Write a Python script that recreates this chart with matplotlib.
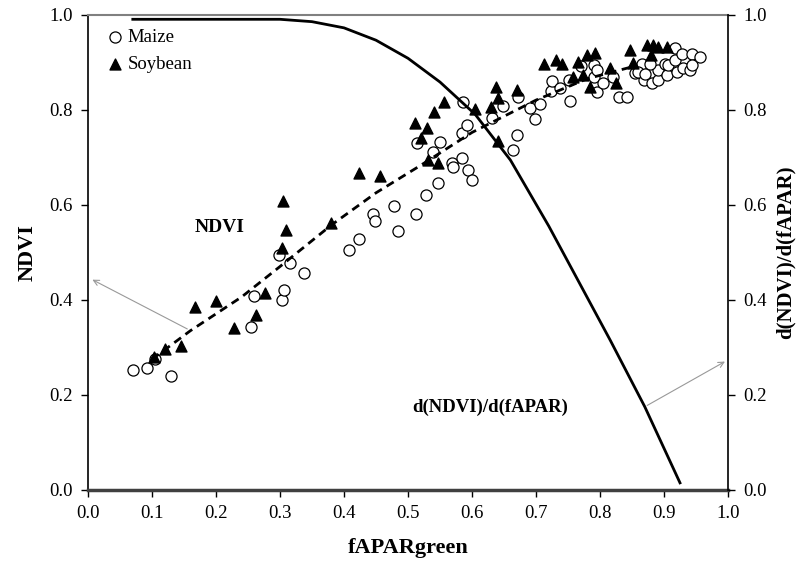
import matplotlib
matplotlib.use("Agg")
import matplotlib.pyplot as plt

plt.rcParams['font.family'] = ['Liberation Serif', 'DejaVu Serif']

# maize observations (open circles)
maize_x = [0.071, 0.092, 0.104, 0.130, 0.254, 0.259, 0.303, 0.307, 0.299, 0.315, 0.338,
           0.408, 0.424, 0.445, 0.448, 0.478, 0.484, 0.513, 0.514, 0.528, 0.539, 0.547,
           0.550, 0.568, 0.571, 0.584, 0.585, 0.586, 0.592, 0.593, 0.600, 0.631, 0.649,
           0.664, 0.671, 0.672, 0.691, 0.698, 0.707, 0.723, 0.725, 0.737, 0.753, 0.752,
           0.771, 0.790, 0.791, 0.795, 0.795, 0.805, 0.821, 0.829, 0.842, 0.855, 0.865,
           0.868, 0.878, 0.881, 0.891, 0.891, 0.901, 0.904, 0.907, 0.917, 0.917, 0.921,
           0.928, 0.930, 0.940, 0.943, 0.943, 0.956, 0.878, 0.860, 0.870]
maize_y = [0.252, 0.257, 0.275, 0.240, 0.342, 0.409, 0.400, 0.421, 0.494, 0.477, 0.457,
           0.505, 0.527, 0.580, 0.566, 0.598, 0.545, 0.580, 0.729, 0.620, 0.710, 0.645,
           0.731, 0.688, 0.680, 0.699, 0.750, 0.815, 0.768, 0.673, 0.652, 0.782, 0.808,
           0.715, 0.747, 0.826, 0.803, 0.780, 0.812, 0.839, 0.861, 0.846, 0.818, 0.862,
           0.892, 0.869, 0.894, 0.883, 0.838, 0.857, 0.869, 0.827, 0.827, 0.876, 0.897,
           0.862, 0.876, 0.855, 0.862, 0.883, 0.897, 0.873, 0.894, 0.904, 0.929, 0.880,
           0.918, 0.887, 0.884, 0.918, 0.894, 0.911, 0.897, 0.880, 0.875]

# soybean observations (filled triangles)
soy_x = [0.103, 0.121, 0.145, 0.167, 0.200, 0.228, 0.262, 0.276, 0.303, 0.310, 0.305,
         0.379, 0.424, 0.457, 0.511, 0.520, 0.529, 0.532, 0.541, 0.547, 0.557, 0.605,
         0.629, 0.637, 0.640, 0.641, 0.670, 0.712, 0.732, 0.740, 0.758, 0.766, 0.774,
         0.779, 0.784, 0.792, 0.816, 0.825, 0.847, 0.851, 0.873, 0.880, 0.883, 0.891,
         0.904]
soy_y = [0.280, 0.296, 0.303, 0.385, 0.397, 0.340, 0.368, 0.414, 0.508, 0.547, 0.608,
         0.561, 0.666, 0.660, 0.771, 0.740, 0.761, 0.694, 0.794, 0.688, 0.815, 0.801,
         0.805, 0.848, 0.824, 0.733, 0.841, 0.897, 0.904, 0.896, 0.868, 0.900, 0.873,
         0.915, 0.848, 0.920, 0.887, 0.857, 0.925, 0.899, 0.936, 0.915, 0.936, 0.932,
         0.932]

# NDVI fit (dashed)
fit_x = [0.10, 0.16, 0.24, 0.30, 0.38, 0.45, 0.52, 0.60, 0.70, 0.78, 0.85]
fit_y = [0.275, 0.335, 0.406, 0.470, 0.557, 0.625, 0.683, 0.752, 0.820, 0.865, 0.890]

# derivative of the fit (right axis)
deriv_x = [0.07, 0.30, 0.35, 0.40, 0.45, 0.50, 0.55, 0.605, 0.66, 0.72, 0.77, 0.816, 0.87, 0.925]
deriv_y = [0.99, 0.99, 0.985, 0.972, 0.946, 0.908, 0.858, 0.790, 0.694, 0.555, 0.430, 0.315, 0.175, 0.015]

fig = plt.figure(figsize=(8, 5.77), dpi=100)
ax = fig.add_axes([0.11, 0.1508, 0.80, 0.824])

ax.scatter(maize_x, maize_y, s=64, facecolors='white', edgecolors='black',
           linewidths=0.9, label='Maize', zorder=3)
ax.scatter(soy_x, soy_y, marker='^', s=62, c='black', label='Soybean', zorder=3)
ax.plot(fit_x, fit_y, color='black', ls='--', lw=2, dashes=(3, 2), zorder=4)

ax.set_xlim(0, 1)
ax.set_ylim(0, 1)
ax.set_xticks([i / 10 for i in range(11)])
ax.set_yticks([0, 0.2, 0.4, 0.6, 0.8, 1.0])
ax.xaxis.set_major_formatter(matplotlib.ticker.FormatStrFormatter('%.1f'))
ax.yaxis.set_major_formatter(matplotlib.ticker.FormatStrFormatter('%.1f'))
ax.tick_params(direction='out', length=5, width=1, labelsize=13.5, pad=6)
ax.set_xlabel('fAPARgreen', fontsize=16, fontweight='bold', labelpad=11)
ax.set_ylabel('NDVI', fontsize=16, fontweight='bold', labelpad=8)

ax.spines['bottom'].set_linewidth(2.5)
ax.spines['bottom'].set_color('#404040')
ax.spines['top'].set_linewidth(1.5)
ax.spines['top'].set_color('#808080')
ax.spines['left'].set_linewidth(1.2)
ax.spines['right'].set_visible(False)

ax2 = ax.twinx()
ax2.plot(deriv_x, deriv_y, color='black', lw=2)
ax2.set_ylim(0, 1)
ax2.set_yticks([0, 0.2, 0.4, 0.6, 0.8, 1.0])
ax2.yaxis.set_major_formatter(matplotlib.ticker.FormatStrFormatter('%.1f'))
ax2.tick_params(direction='out', length=5, width=1, labelsize=13.5, pad=6)
ax2.set_ylabel('d(NDVI)/d(fAPAR)', fontsize=15, fontweight='bold', labelpad=6)
for s in ['top', 'bottom', 'left']:
    ax2.spines[s].set_visible(False)
ax2.spines['right'].set_linewidth(1.2)

ax.legend(loc='upper left', bbox_to_anchor=(0.0, 1.005), frameon=False, fontsize=13.5,
          handletextpad=0.1, handlelength=1.1, labelspacing=0.5, scatterpoints=1)

ax.text(0.206, 0.553, 'NDVI', fontsize=14, fontweight='bold', ha='center', va='center')
ax.text(0.628, 0.173, 'd(NDVI)/d(fAPAR)', fontsize=13.5, fontweight='bold',
        ha='center', va='center')

ax.annotate('', xy=(0.003, 0.445), xytext=(0.159, 0.336),
            arrowprops=dict(arrowstyle='->', color='#999999', lw=0.8))
ax2.annotate('', xy=(0.999, 0.273), xytext=(0.870, 0.175),
             arrowprops=dict(arrowstyle='->', color='#999999', lw=0.8))

fig.savefig('out.png', dpi=100)
